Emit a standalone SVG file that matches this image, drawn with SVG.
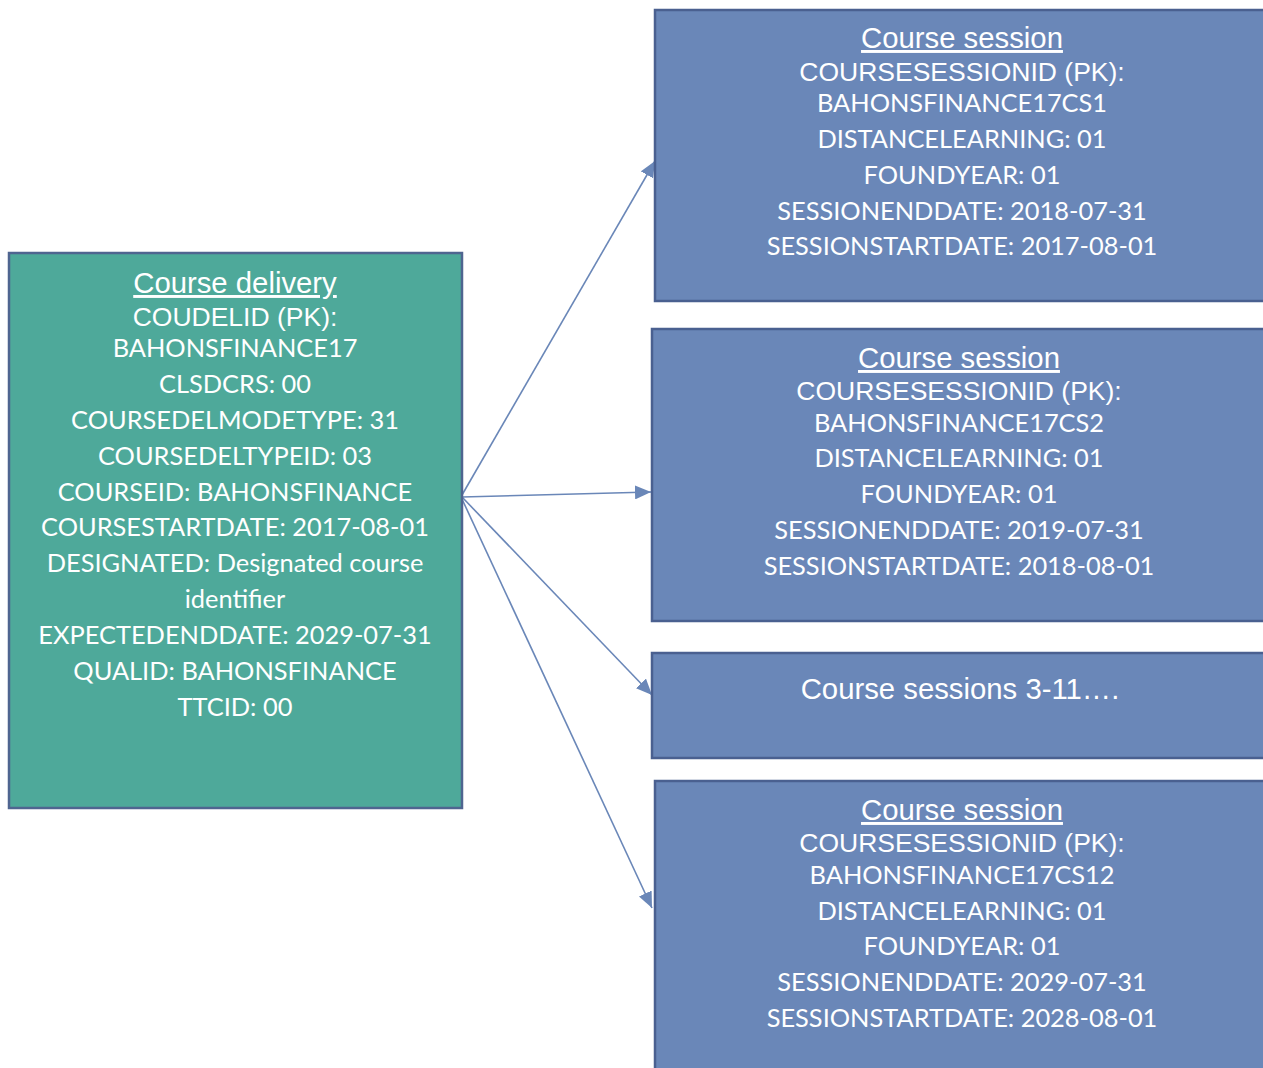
<svg xmlns="http://www.w3.org/2000/svg" width="1263" height="1068" viewBox="0 0 1263 1068">
<style>
.green{fill:#4ea99a;stroke:#4f6590;stroke-width:2.5}
.blue{fill:#6a87b8;stroke:#4a6090;stroke-width:2.5}
.t{font-family:"Liberation Sans",Arial,sans-serif;font-size:26.5px;fill:#fff;text-anchor:middle}
.u{text-decoration:underline;font-size:29.3px}
.big{font-size:29.3px}
.c{font-family:Lato,"Open Sans",sans-serif;font-size:25.4px;fill:#fff;text-anchor:middle}
.conn{stroke:#6a87b8;stroke-width:1.6;fill:none}
</style>
<defs>
<marker id="ah" markerUnits="userSpaceOnUse" markerWidth="18" markerHeight="14" refX="16" refY="7" orient="auto">
<path d="M0,0 L16,7 L0,14 Z" fill="#6a87b8"/>
</marker>
</defs>
<g id="connectors">
<line class="conn" x1="462" y1="495" x2="655" y2="161" marker-end="url(#ah)"/>
<line class="conn" x1="462" y1="497" x2="651" y2="492" marker-end="url(#ah)"/>
<line class="conn" x1="462" y1="497" x2="652" y2="695" marker-end="url(#ah)"/>
<line class="conn" x1="462" y1="499" x2="652" y2="908" marker-end="url(#ah)"/>
</g>
<g id="course-delivery">
<rect class="green" x="9" y="253" width="453" height="555"/>
<text class="t u" x="235" y="293">Course delivery</text>
<text class="t" x="235" y="326">COUDELID (PK):</text>
<text class="c" x="235" y="357">BAHONSFINANCE17</text>
<text class="c" x="235" y="393">CLSDCRS: 00</text>
<text class="c" x="235" y="429">COURSEDELMODETYPE: 31</text>
<text class="c" x="235" y="465">COURSEDELTYPEID: 03</text>
<text class="c" x="235" y="501">COURSEID: BAHONSFINANCE</text>
<text class="c" x="235" y="536">COURSESTARTDATE: 2017-08-01</text>
<text class="c" x="235" y="572">DESIGNATED: Designated course</text>
<text class="c" x="235" y="608">identifier</text>
<text class="c" x="235" y="644">EXPECTEDENDDATE: 2029-07-31</text>
<text class="c" x="235" y="680">QUALID: BAHONSFINANCE</text>
<text class="c" x="235" y="716">TTCID: 00</text>
</g>
<g id="course-session-1">
<rect class="blue" x="655" y="10" width="620" height="291"/>
<text class="t u" x="962" y="48">Course session</text>
<text class="t" x="962" y="81">COURSESESSIONID (PK):</text>
<text class="c" x="962" y="112">BAHONSFINANCE17CS1</text>
<text class="c" x="962" y="148">DISTANCELEARNING: 01</text>
<text class="c" x="962" y="184">FOUNDYEAR: 01</text>
<text class="c" x="962" y="220">SESSIONENDDATE: 2018-07-31</text>
<text class="c" x="962" y="255">SESSIONSTARTDATE: 2017-08-01</text>
</g>
<g id="course-session-2">
<rect class="blue" x="652" y="329" width="620" height="292"/>
<text class="t u" x="959" y="368">Course session</text>
<text class="t" x="959" y="400">COURSESESSIONID (PK):</text>
<text class="c" x="959" y="432">BAHONSFINANCE17CS2</text>
<text class="c" x="959" y="467">DISTANCELEARNING: 01</text>
<text class="c" x="959" y="503">FOUNDYEAR: 01</text>
<text class="c" x="959" y="539">SESSIONENDDATE: 2019-07-31</text>
<text class="c" x="959" y="575">SESSIONSTARTDATE: 2018-08-01</text>
</g>
<g id="course-sessions-3-11">
<rect class="blue" x="652" y="653" width="620" height="105"/>
<text class="t big" x="960" y="699">Course sessions 3-11….</text>
</g>
<g id="course-session-12">
<rect class="blue" x="655" y="781" width="620" height="300"/>
<text class="t u" x="962" y="820">Course session</text>
<text class="t" x="962" y="852">COURSESESSIONID (PK):</text>
<text class="c" x="962" y="884">BAHONSFINANCE17CS12</text>
<text class="c" x="962" y="920">DISTANCELEARNING: 01</text>
<text class="c" x="962" y="955">FOUNDYEAR: 01</text>
<text class="c" x="962" y="991">SESSIONENDDATE: 2029-07-31</text>
<text class="c" x="962" y="1027">SESSIONSTARTDATE: 2028-08-01</text>
</g>
</svg>
